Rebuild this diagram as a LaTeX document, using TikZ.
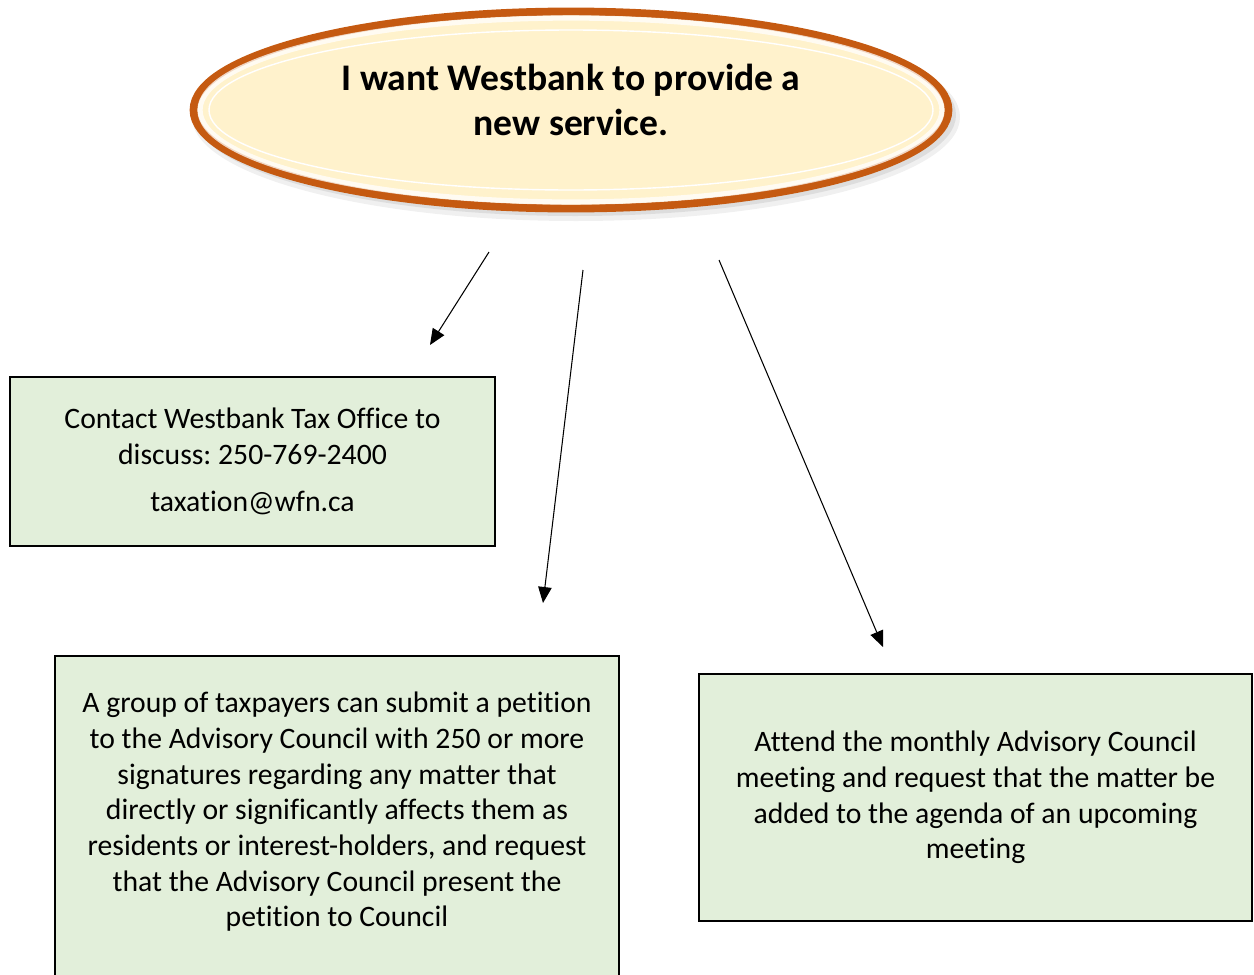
\documentclass[tikz,border=0pt]{standalone}
\usepackage{fontspec}
\setmainfont{Carlito}[Ligatures=NoCommon]
\frenchspacing
\usetikzlibrary{arrows.meta,shapes.geometric}
\definecolor{ringorange}{RGB}{197,90,17}
\definecolor{creamfill}{RGB}{255,242,204}
\definecolor{boxgreen}{RGB}{226,239,218}

\begin{document}
\begin{tikzpicture}[x=0.02cm,y=-0.02cm,
    title/.style={ellipse,draw=ringorange,line width=4.5pt,fill=creamfill,minimum width=15.1cm,minimum height=3.94cm},
    titletext/.style={align=center,font=\fontsize{21.4}{25.6}\selectfont\bfseries},
    optbox/.style={draw=black,line width=1.1pt,fill=boxgreen,align=center,font=\fontsize{16.9}{20.3}\selectfont},
    opttext/.style={align=center,font=\fontsize{16.9}{20.3}\selectfont},
    arr/.style={-{Triangle[length=0.32cm,width=0.27cm]},line width=0.6pt}] %
    \useasboundingbox (0,0) rectangle (1254,974); %
    % soft shadow under the ellipse
    \fill[black,opacity=0.06] (576,117) ellipse [x radius=384, y radius=104];
    \fill[black,opacity=0.08] (575,115) ellipse [x radius=381, y radius=101];
    \node[title] (want) at (571,110) {} ; %
    \draw[white,opacity=0.75,line width=3pt] (want.center) ellipse [x radius=371, y radius=92];
    \draw[white,line width=0.8pt] (want.center) ellipse [x radius=362, y radius=80];
    \node[titletext] (wanttext) at (571,100) {I want Westbank to provide a\\new service.} ; %
    \node[optbox,minimum width=9.7cm,minimum height=3.38cm] (taxoffice) at (252.5,461.5) {Contact Westbank Tax Office to\\discuss: 250-769-2400\\[0.22cm]taxation@wfn.ca} ; %
    \node[optbox,minimum width=11.28cm,minimum height=6.44cm] (petition) at (337,817) {} ; %
    \node[opttext] (petitiontext) at (337,812) {A group of taxpayers can submit a petition\\to the Advisory Council with 250 or more\\signatures regarding any matter that\\directly or significantly affects them as\\residents or interest-holders, and request\\that the Advisory Council present the\\petition to Council};
    \node[optbox,minimum width=11.06cm,minimum height=4.94cm] (meeting) at (975.5,797.5) {Attend the monthly Advisory Council\\meeting and request that the matter be\\added to the agenda of an upcoming\\meeting} ; %
    \coordinate (toTaxStart) at (489,252) ;
    \coordinate (toTaxEnd) at (430,345) ;
    \coordinate (toPetitionStart) at (583,270) ;
    \coordinate (toPetitionEnd) at (543,603) ;
    \coordinate (toMeetingStart) at (719,260) ;
    \coordinate (toMeetingEnd) at (883,647) ;
    \draw[arr] (toTaxStart)--(toTaxEnd) ; %
    \draw[arr] (toPetitionStart)--(toPetitionEnd) ;
    \draw[arr] (toMeetingStart)--(toMeetingEnd) ;
  \end{tikzpicture}
\end{document}
